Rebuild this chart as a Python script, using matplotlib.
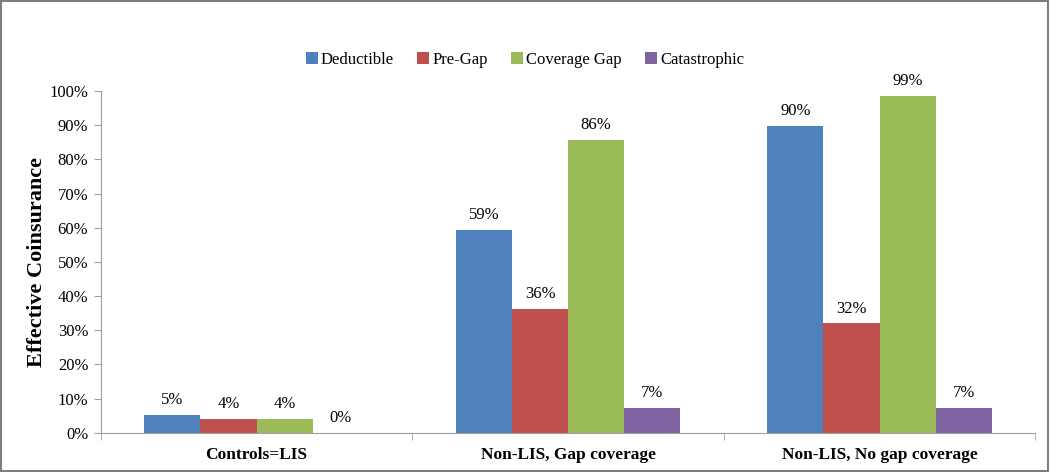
import numpy as np
import matplotlib
matplotlib.use("Agg")
import matplotlib.pyplot as plt
from matplotlib.patches import Rectangle

plt.rcParams['font.family'] = 'serif'
plt.rcParams['font.serif'] = ['Liberation Serif', 'DejaVu Serif']

groups = ["Controls=LIS", "Non-LIS, Gap coverage", "Non-LIS, No gap coverage"]
series = ["Deductible", "Pre-Gap", "Coverage Gap", "Catastrophic"]
deductible = [5.2, 59.3, 89.7]
pre_gap = [4.1, 36.2, 32.0]
coverage_gap = [4.0, 85.6, 98.6]
catastrophic = [0.0, 7.2, 7.2]
colors = ["#4F81BD", "#C0504D", "#9BBB59", "#8064A2"]

values = [deductible, pre_gap, coverage_gap, catastrophic]
pos = np.arange(len(groups))
width = 0.18

fig = plt.figure(figsize=(10.5, 4.72), dpi=100)
ax = fig.add_axes([0.096, 0.083, 0.89, 0.724])

for i, (name, vals) in enumerate(zip(series, values)):
    x = pos + (i - 1.5) * width
    bars = ax.bar(x, vals, width, color=colors[i], label=name, linewidth=0)
    for b, v in zip(bars, vals):
        ax.annotate("%d%%" % round(v), (b.get_x() + b.get_width() / 2, v),
                    xytext=(0, 5), textcoords="offset points",
                    ha="center", va="bottom", fontsize=12)

ax.set_xlim(-0.5, 2.5)
ax.set_ylim(0, 100)
ax.set_yticks(np.arange(0, 101, 10))
ax.set_yticklabels(["%d%%" % t for t in range(0, 101, 10)], fontsize=12)
ax.set_xticks(pos)
ax.set_xticklabels(groups, fontsize=12.5, fontweight="bold")
ax.set_xticks([-0.5, 0.5, 1.5, 2.5], minor=True)
ax.tick_params(axis="x", which="major", length=0, pad=10)
ax.tick_params(axis="x", which="minor", length=5, color="#A0A0A0", direction="out")
ax.tick_params(axis="y", length=5, color="#A0A0A0", direction="out", pad=4)

for s in ["top", "right"]:
    ax.spines[s].set_visible(False)
for s in ["left", "bottom"]:
    ax.spines[s].set_color("#A0A0A0")

ax.set_ylabel("Effective Coinsurance", fontsize=16, fontweight="bold", labelpad=2)

fig.legend(loc="center", bbox_to_anchor=(0.5, 0.873), ncol=4, frameon=False,
           fontsize=12, handlelength=0.7, handleheight=0.7, handletextpad=0.2,
           columnspacing=1.4)

fig.patches.append(Rectangle((0.001, 0.002), 0.997, 0.995, transform=fig.transFigure,
                             fill=False, edgecolor="#7F7F7F", linewidth=1.5))

fig.savefig("out.png", dpi=100)
